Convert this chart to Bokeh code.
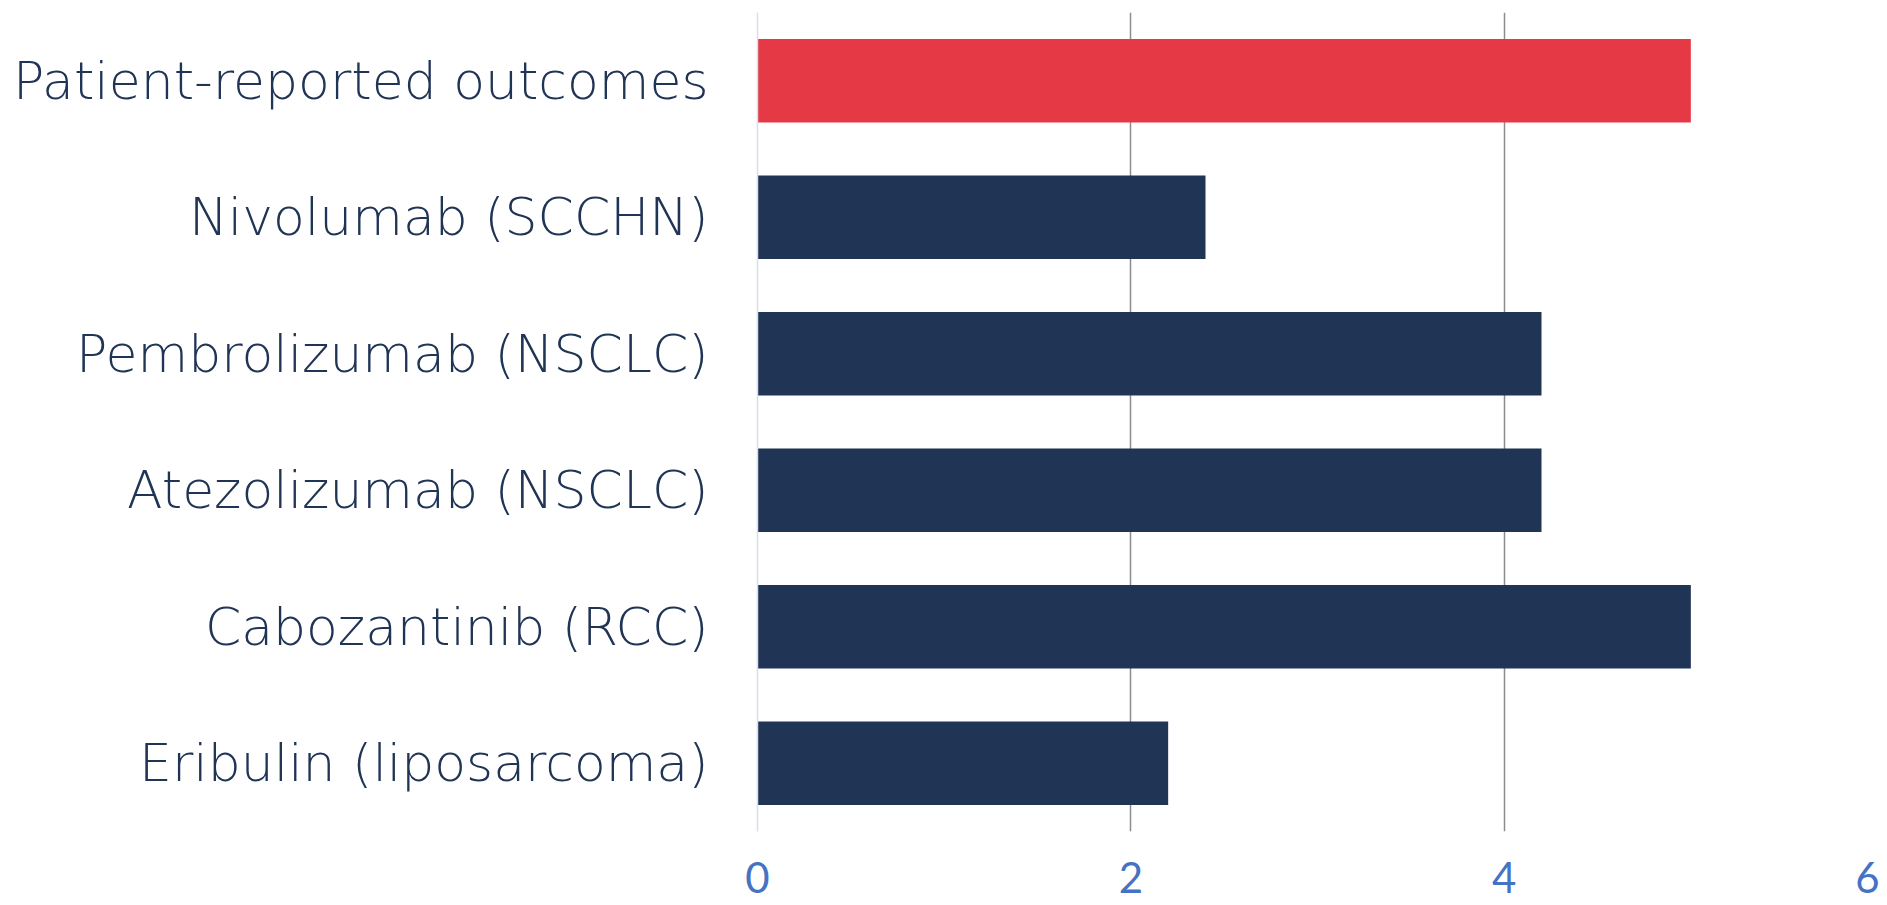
from bokeh.plotting import figure
from bokeh.models import Range1d, FactorRange, FixedTicker, ColumnDataSource
from bokeh.embed import file_html
from bokeh.resources import INLINE

categories = [
    "Patient-reported outcomes",
    "Nivolumab (SCCHN)",
    "Pembrolizumab (NSCLC)",
    "Atezolizumab (NSCLC)",
    "Cabozantinib (RCC)",
    "Eribulin (liposarcoma)",
]
values = [5.0, 2.4, 4.2, 4.2, 5.0, 2.2]
bar_colors = ["#E63946", "#203456", "#203456", "#203456", "#203456", "#203456"]
x_ticks = [0, 2, 4, 6]

src = ColumnDataSource(dict(cat=categories, val=values, color=bar_colors))

p = figure(
    width=1879, height=905,
    y_range=FactorRange(factors=categories[::-1]),
    x_range=Range1d(0, 6),
    output_backend="svg", toolbar_location=None,
    min_border_left=757, min_border_right=2, min_border_top=12, min_border_bottom=74,
)
p.hbar(y="cat", right="val", left=0, height=0.61, color="color", line_color=None, source=src)

p.outline_line_color = None
p.ygrid.grid_line_color = None
p.xgrid.ticker = FixedTicker(ticks=[2, 4, 6])
p.xgrid.grid_line_color = "#8C8C8C"
p.xgrid.grid_line_width = 1.5

p.xaxis.ticker = FixedTicker(ticks=x_ticks)
p.xaxis.axis_line_color = None
p.xaxis.major_tick_line_color = None
p.xaxis.minor_tick_line_color = None
p.xaxis.major_label_text_color = "#4472C4"
p.xaxis.major_label_text_font = "Lato"
p.xaxis.major_label_text_font_size = "42px"
p.xaxis.major_label_standoff = 24

p.yaxis.axis_line_color = "#D5DFEA"
p.yaxis.axis_line_width = 1.5
p.yaxis.major_tick_line_color = None
p.yaxis.major_label_text_color = "#203456"
p.yaxis.major_label_text_font = "'DejaVu Sans Light', 'DejaVu Sans'"
p.yaxis.major_label_text_font_size = "52px"
p.yaxis.major_label_standoff = 43

open("out.html", "w").write(file_html(p, INLINE))
